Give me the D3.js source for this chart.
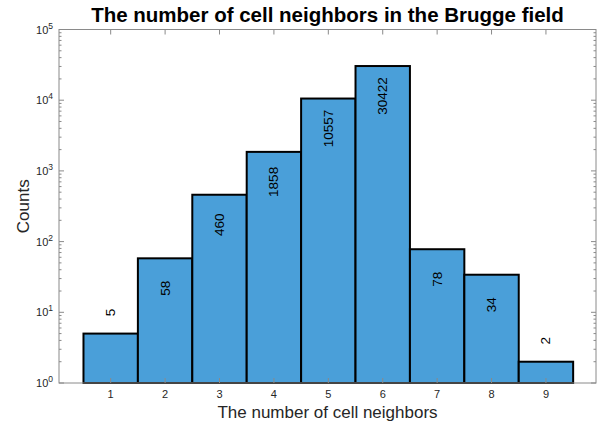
<!DOCTYPE html>
<html><head><meta charset="utf-8">
<script src="https://cdn.jsdelivr.net/npm/d3@7"></script>
<style>body{margin:0;background:#fff;} text{font-family:"Liberation Sans",Arial,sans-serif;}</style>
</head><body><svg id="c" width="601" height="426"></svg>
<script>
const categories = [1,2,3,4,5,6,7,8,9];
const counts = [5,58,460,1858,10557,30422,78,34,2];
const yTickExps = [0,1,2,3,4,5];
const title = "The number of cell neighbors in the Brugge field";
const xLabel = "The number of cell neighbors";
const yLabel = "Counts";

const svg = d3.select("#c");
const L = 59, R = 596, T = 29.5, B = 383;
const x = d3.scaleLinear().domain([0.05, 9.92]).range([L, R]);
const y = d3.scaleLog().domain([1, 1e5]).range([B, T]);
const axisCol = "#8a8a8a", textCol = "#262626";

// bars
svg.append("g").selectAll("rect").data(categories).join("rect")
  .attr("x", d => x(d - 0.5)).attr("width", d => x(d + 0.5) - x(d - 0.5))
  .attr("y", (d,i) => y(counts[i])).attr("height", (d,i) => B - y(counts[i]))
  .attr("fill", "#4a9fd9").attr("stroke", "#000").attr("stroke-width", 2);

// frame
svg.append("rect").attr("x", L).attr("y", T).attr("width", R - L).attr("height", B - T)
  .attr("fill", "none").attr("stroke", axisCol).attr("stroke-width", 1);

// x ticks (bottom & top, inward)
const xt = svg.append("g");
categories.forEach(c => {
  xt.append("line").attr("x1", x(c)).attr("x2", x(c)).attr("y1", B).attr("y2", B - 5).attr("stroke", axisCol);
  xt.append("line").attr("x1", x(c)).attr("x2", x(c)).attr("y1", T).attr("y2", T + 5).attr("stroke", axisCol);
  xt.append("text").attr("x", x(c)).attr("y", B + 15).attr("text-anchor", "middle")
    .attr("font-size", 11).attr("fill", textCol).text(c);
});

// y ticks major & minor, left & right
const yt = svg.append("g");
yTickExps.forEach(e => {
  const v = Math.pow(10, e);
  [[L, 5], [R, -5]].forEach(([px, dx]) => {
    yt.append("line").attr("x1", px).attr("x2", px + dx).attr("y1", y(v)).attr("y2", y(v)).attr("stroke", axisCol);
  });
  if (e < 5) {
    for (let m = 2; m <= 9; m++) {
      const mv = m * v;
      [[L, 2.5], [R, -2.5]].forEach(([px, dx]) => {
        yt.append("line").attr("x1", px).attr("x2", px + dx).attr("y1", y(mv)).attr("y2", y(mv)).attr("stroke", axisCol);
      });
    }
  }
  const t = yt.append("text").attr("x", L - 6).attr("y", y(v) + 4).attr("text-anchor", "end")
    .attr("font-size", 11).attr("fill", textCol);
  t.append("tspan").text("10");
  t.append("tspan").attr("dy", -5).attr("font-size", 8.5).text(e);
});

// value labels (rotated)
svg.append("g").selectAll("text").data(categories).join("text")
  .attr("transform", (d,i) => {
    const cy = counts[i] >= 10 ? y(counts[i]) + 30 : y(counts[i]) - 21;
    return `translate(${x(d) + 4.5},${cy}) rotate(-90)`;
  })
  .attr("text-anchor", "middle").attr("font-size", 13.5).attr("fill", "#000")
  .text((d,i) => counts[i]);

// title & labels
svg.append("text").attr("x", (L + R) / 2).attr("y", 22).attr("text-anchor", "middle")
  .attr("font-size", 20.5).attr("font-weight", "bold").attr("fill", "#000").text(title);
svg.append("text").attr("x", (L + R) / 2).attr("y", 418).attr("text-anchor", "middle")
  .attr("font-size", 17).attr("fill", textCol).text(xLabel);
svg.append("text").attr("transform", `translate(29,${(T + B) / 2}) rotate(-90)`).attr("text-anchor", "middle")
  .attr("font-size", 17).attr("fill", textCol).text(yLabel);
</script></body></html>
